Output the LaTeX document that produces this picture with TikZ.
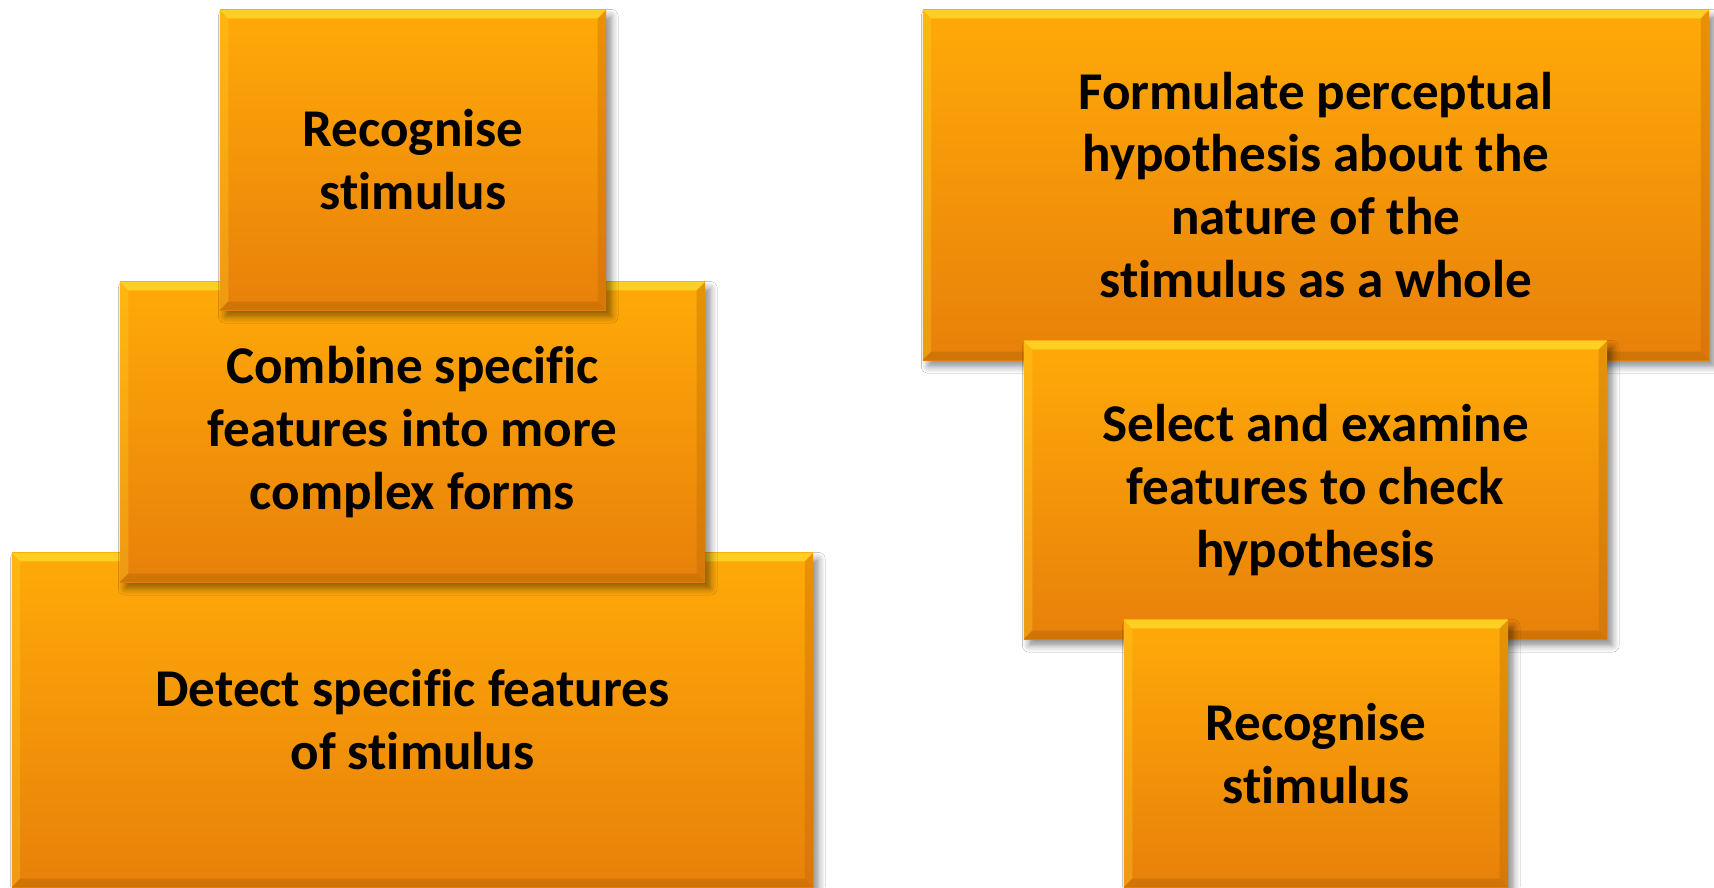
\documentclass[tikz,border=0pt]{standalone}
\usepackage{fontspec}
\setmainfont[Ligatures=CommonOff]{Carlito}
\usetikzlibrary{shadows.blur}
\definecolor{boxtop}{HTML}{FFAA08}
\definecolor{boxbot}{HTML}{E8800A}
\definecolor{bevlight}{HTML}{FFD62A}
\definecolor{bevdark}{HTML}{B86A05}
\newcommand{\bevw}{2.4pt}
\tikzset{
  stage/.style={rectangle, inner sep=0pt, outer sep=0pt, align=center,
    top color=boxtop, bottom color=boxbot,
    font=\fontsize{15.1}{17.9}\selectfont\bfseries,
    blur shadow={shadow xshift=1.5pt, shadow yshift=-1.8pt, shadow blur steps=6, shadow opacity=45},
    path picture={
      % top and left light, right and bottom dark
      \fill[bevlight, opacity=0.85] (path picture bounding box.north west) -- (path picture bounding box.north east)
        -- ([xshift=-\bevw,yshift=-\bevw]path picture bounding box.north east) -- ([xshift=\bevw,yshift=-\bevw]path picture bounding box.north west) -- cycle;
      \fill[bevlight, opacity=0.3] (path picture bounding box.north west) -- (path picture bounding box.south west)
        -- ([xshift=\bevw,yshift=\bevw]path picture bounding box.south west) -- ([xshift=\bevw,yshift=-\bevw]path picture bounding box.north west) -- cycle;
      \fill[bevdark, opacity=0.35] (path picture bounding box.north east) -- (path picture bounding box.south east)
        -- ([xshift=-\bevw,yshift=\bevw]path picture bounding box.south east) -- ([xshift=-\bevw,yshift=-\bevw]path picture bounding box.north east) -- cycle;
      \fill[bevdark, opacity=0.5] (path picture bounding box.south west) -- (path picture bounding box.south east)
        -- ([xshift=-\bevw,yshift=\bevw]path picture bounding box.south east) -- ([xshift=\bevw,yshift=\bevw]path picture bounding box.south west) -- cycle;
    }},
}
\begin{document}
\begin{tikzpicture}[x=0.01cm, y=-0.01cm]
  \useasboundingbox[fill=white] (0,0) rectangle (1714,887);
  % Left stack (bottom-up)
  \node[stage, minimum width=8.01cm, minimum height=3.34cm] (detect) at (412.5,720)
    {Detect specific features\\of stimulus};
  \node[stage, minimum width=5.85cm, minimum height=3.0cm] (combine) at (412.5,432)
    {Combine specific\\features into more\\complex forms};
  \node[stage, minimum width=3.86cm, minimum height=3.0cm] (recogL) at (413,160)
    {Recognise\\stimulus};
  % Right stack (top-down)
  \node[stage, minimum width=7.86cm, minimum height=3.5cm] (formulate) at (1316,185)
    {Formulate perceptual\\hypothesis about the\\nature of the\\stimulus as a whole};
  \node[stage, minimum width=5.83cm, minimum height=2.98cm] (select) at (1315.5,490)
    {Select and examine\\features to check\\hypothesis};
  \node[stage, minimum width=3.84cm, minimum height=2.67cm] (recogR) at (1316,753.5)
    {Recognise\\stimulus};
\end{tikzpicture}
\end{document}
